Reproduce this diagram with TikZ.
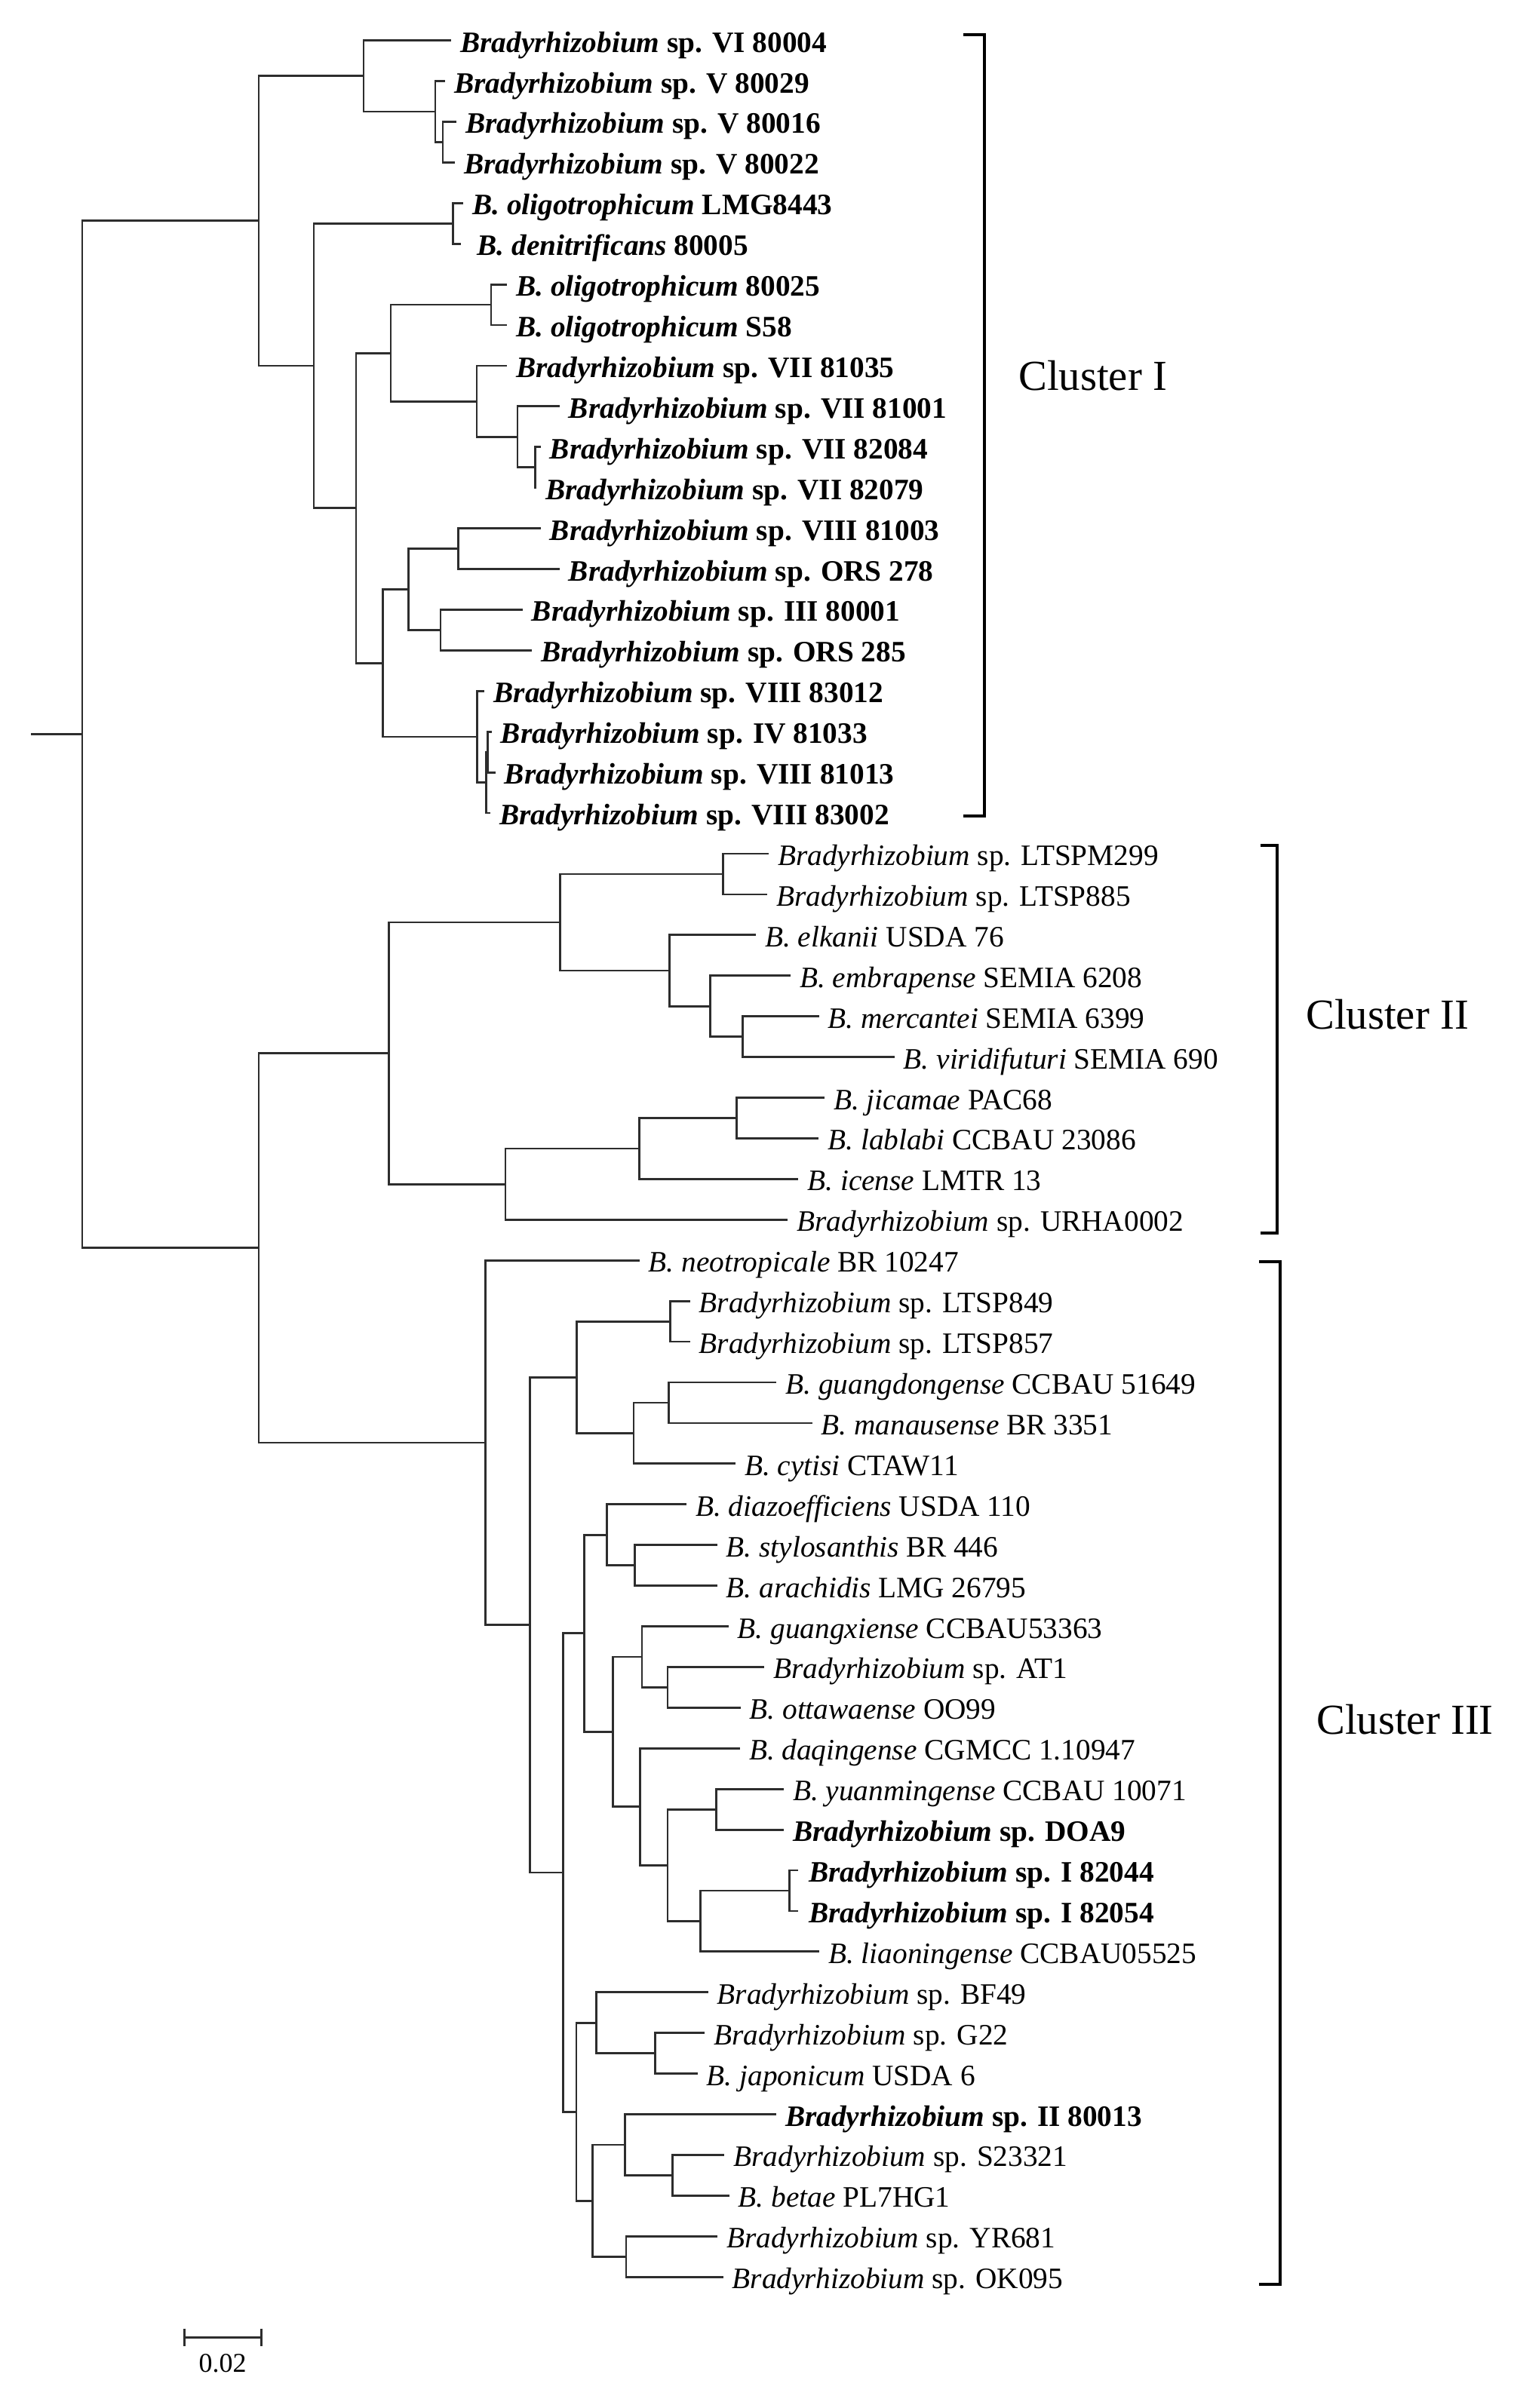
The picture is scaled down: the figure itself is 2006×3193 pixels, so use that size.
\documentclass[tikz,border=0pt]{standalone}
\usepackage{fontspec}
\setmainfont{Liberation Serif}
\definecolor{brc}{RGB}{45,45,45}
\newcommand\leafat[4]{%
  \coordinate (t#1) at (#2,{53.6+(#1-1)*53.92});
  \node[#3] (n#1) at (t#1) {#4};}
\newcommand\brn[2]{\draw[br] (#1) |- (#2);}
\begin{document}
\begin{tikzpicture}[x=1pt,y=-1pt,
  br/.style={line width=2.8pt, draw=brc},
  leaf/.style={anchor=base west, inner sep=0pt, xshift=12pt, yshift=-15.5pt, font=\fontsize{39.3pt}{47pt}\selectfont},
  bleaf/.style={leaf, font=\fontsize{39.3pt}{47pt}\selectfont\bfseries},
  clab/.style={anchor=base west, inner sep=0pt, font=\fontsize{56.7pt}{68pt}\selectfont},
  brk/.style={line width=4pt, draw=black}]
\useasboundingbox (0,0) rectangle (2006,3193);
% ---------- internal nodes ----------
\coordinate (R) at (109,973.80);
\coordinate (root) at (41,973.80);
\coordinate (C1) at (343,292.87);
\coordinate (A) at (482,100.78);
\coordinate (A2) at (577,147.96);
\coordinate (A3) at (587,188.40);
\coordinate (D) at (416,484.96);
\coordinate (D1) at (600.5,296.24);
\coordinate (E) at (472,673.68);
\coordinate (F) at (518,468.11);
\coordinate (F1) at (651,404.08);
\coordinate (F2) at (632,532.14);
\coordinate (F3) at (686,579.32);
\coordinate (F4) at (709.3,619.76);
\coordinate (G) at (507.7,879.25);
\coordinate (G1) at (541.7,781.52);
\coordinate (G11) at (607.7,727.60);
\coordinate (G12) at (584,835.44);
\coordinate (G2) at (632.3,976.98);
\coordinate (G3) at (644.3,1037.64);
\coordinate (G4) at (646.7,997.20);
\coordinate (R2) at (343,1654.72);
\coordinate (H) at (515.6,1396.55);
\coordinate (H1) at (742.2,1222.99);
\coordinate (H11) at (958.3,1158.96);
\coordinate (H12) at (887.4,1287.02);
\coordinate (H13) at (941.4,1334.20);
\coordinate (H14) at (984.2,1374.64);
\coordinate (H2) at (670,1570.10);
\coordinate (H21) at (847.4,1522.92);
\coordinate (H22) at (976.5,1482.48);
\coordinate (K) at (643.7,1912.90);
\coordinate (L) at (702.6,2154.59);
\coordinate (M) at (764.2,1826.22);
\coordinate (M1) at (888.8,1752.08);
\coordinate (M2) at (840,1900.36);
\coordinate (M3) at (886.5,1859.92);
\coordinate (N) at (746.4,2482.95);
\coordinate (P) at (774.5,2165.75);
\coordinate (P1) at (804.3,2035.16);
\coordinate (P11) at (841.2,2075.60);
\coordinate (P2) at (812.4,2296.34);
\coordinate (P21) at (851,2196.92);
\coordinate (P211) at (885,2237.36);
\coordinate (P22) at (848.2,2395.75);
\coordinate (P221) at (885,2473.26);
\coordinate (P222) at (949.2,2399.12);
\coordinate (P223) at (928.2,2547.40);
\coordinate (P224) at (1046.4,2506.96);
\coordinate (Q) at (764,2800.15);
\coordinate (Q1) at (790.3,2682.20);
\coordinate (Q11) at (868.2,2722.64);
\coordinate (Q2) at (785.7,2918.10);
\coordinate (Q21) at (828.2,2843.96);
\coordinate (Q211) at (891.3,2884.40);
\coordinate (Q22) at (830,2992.24);
% ---------- leaves ----------
\leafat{1}{598}{bleaf}{\textit{Bradyrhizobium} sp. VI 80004}
\leafat{2}{590}{bleaf}{\textit{Bradyrhizobium} sp. V 80029}
\leafat{3}{605}{bleaf}{\textit{Bradyrhizobium} sp. V 80016}
\leafat{4}{603}{bleaf}{\textit{Bradyrhizobium} sp. V 80022}
\leafat{5}{614}{bleaf}{\textit{B. oligotrophicum} LMG8443}
\leafat{6}{611}{bleaf,xshift=9.5pt}{\textit{B. denitrificans} 80005}
\leafat{7}{672}{bleaf}{\textit{B. oligotrophicum} 80025}
\leafat{8}{672}{bleaf}{\textit{B. oligotrophicum} S58}
\leafat{9}{672}{bleaf}{\textit{Bradyrhizobium} sp. VII 81035}
\leafat{10}{741.7}{bleaf}{\textit{Bradyrhizobium} sp. VII 81001}
\leafat{11}{716.7}{bleaf}{\textit{Bradyrhizobium} sp. VII 82084}
\leafat{12}{711}{bleaf}{\textit{Bradyrhizobium} sp. VII 82079}
\leafat{13}{716.7}{bleaf}{\textit{Bradyrhizobium} sp. VIII 81003}
\leafat{14}{741.7}{bleaf}{\textit{Bradyrhizobium} sp. ORS 278}
\leafat{15}{692.7}{bleaf}{\textit{Bradyrhizobium} sp. III 80001}
\leafat{16}{705}{bleaf}{\textit{Bradyrhizobium} sp. ORS 285}
\leafat{17}{642.3}{bleaf}{\textit{Bradyrhizobium} sp. VIII 83012}
\leafat{18}{651.7}{bleaf}{\textit{Bradyrhizobium} sp. IV 81033}
\leafat{19}{656.7}{bleaf}{\textit{Bradyrhizobium} sp. VIII 81013}
\leafat{20}{650}{bleaf}{\textit{Bradyrhizobium} sp. VIII 83002}
\leafat{21}{1019}{leaf}{\textit{Bradyrhizobium} sp. LTSPM299}
\leafat{22}{1017}{leaf}{\textit{Bradyrhizobium} sp. LTSP885}
\leafat{23}{1002}{leaf}{\textit{B. elkanii} USDA 76}
\leafat{24}{1048}{leaf}{\textit{B. embrapense} SEMIA 6208}
\leafat{25}{1085.5}{leaf}{\textit{B. mercantei} SEMIA 6399}
\leafat{26}{1185.7}{leaf}{\textit{B. viridifuturi} SEMIA 690}
\leafat{27}{1092.9}{leaf}{\textit{B. jicamae} PAC68}
\leafat{28}{1085.2}{leaf}{\textit{B. lablabi} CCBAU 23086}
\leafat{29}{1058.2}{leaf}{\textit{B. icense} LMTR 13}
\leafat{30}{1044.4}{leaf}{\textit{Bradyrhizobium} sp. URHA0002}
\leafat{31}{847.5}{leaf}{\textit{B. neotropicale} BR 10247}
\leafat{32}{914.6}{leaf}{\textit{Bradyrhizobium} sp. LTSP849}
\leafat{33}{914.6}{leaf}{\textit{Bradyrhizobium} sp. LTSP857}
\leafat{34}{1029.4}{leaf}{\textit{B. guangdongense} CCBAU 51649}
\leafat{35}{1076.5}{leaf}{\textit{B. manausense} BR 3351}
\leafat{36}{974.9}{leaf}{\textit{B. cytisi} CTAW11}
\leafat{37}{910}{leaf}{\textit{B. diazoefficiens} USDA 110}
\leafat{38}{950.6}{leaf}{\textit{B. stylosanthis} BR 446}
\leafat{39}{950.6}{leaf}{\textit{B. arachidis} LMG 26795}
\leafat{40}{965.7}{leaf}{\textit{B. guangxiense} CCBAU53363}
\leafat{41}{1013}{leaf}{\textit{Bradyrhizobium} sp. AT1}
\leafat{42}{981.5}{leaf}{\textit{B. ottawaense} OO99}
\leafat{43}{980.8}{leaf}{\textit{B. daqingense} CGMCC 1.10947}
\leafat{44}{1039}{leaf}{\textit{B. yuanmingense} CCBAU 10071}
\leafat{45}{1039}{bleaf}{\textit{Bradyrhizobium} sp. DOA9}
\leafat{46}{1058}{bleaf,xshift=2pt}{\textit{Bradyrhizobium} sp. I 82044}
\leafat{47}{1058}{bleaf,xshift=2pt}{\textit{Bradyrhizobium} sp. I 82054}
\leafat{48}{1086}{leaf}{\textit{B. liaoningense} CCBAU05525}
\leafat{49}{938.5}{leaf}{\textit{Bradyrhizobium} sp. BF49}
\leafat{50}{934}{leaf}{\textit{Bradyrhizobium} sp. G22}
\leafat{51}{924.7}{leaf}{\textit{B. japonicum} USDA 6}
\leafat{52}{1028.8}{bleaf}{\textit{Bradyrhizobium} sp. II 80013}
\leafat{53}{960.4}{leaf}{\textit{Bradyrhizobium} sp. S23321}
\leafat{54}{966.7}{leaf}{\textit{B. betae} PL7HG1}
\leafat{55}{951}{leaf}{\textit{Bradyrhizobium} sp. YR681}
\leafat{56}{958.7}{leaf}{\textit{Bradyrhizobium} sp. OK095}
% ---------- branches ----------
\draw[br] (root) -- (R);
\brn{R}{C1}\brn{R}{R2}
\brn{C1}{A}\brn{C1}{D}
\brn{A}{t1}\brn{A}{A2}
\brn{A2}{t2}\brn{A2}{A3}
\brn{A3}{t3}\brn{A3}{t4}
\brn{D}{D1}\brn{D}{E}
\brn{D1}{t5}\brn{D1}{t6}
\brn{E}{F}\brn{E}{G}
\brn{F}{F1}\brn{F}{F2}
\brn{F1}{t7}\brn{F1}{t8}
\brn{F2}{t9}\brn{F2}{F3}
\brn{F3}{t10}\brn{F3}{F4}
\brn{F4}{t11}\brn{F4}{t12}
\brn{G}{G1}\brn{G}{G2}
\brn{G1}{G11}\brn{G1}{G12}
\brn{G11}{t13}\brn{G11}{t14}
\brn{G12}{t15}\brn{G12}{t16}
\brn{G2}{t17}\brn{G2}{G3}
\brn{G3}{G4}\brn{G3}{t20}
\brn{G4}{t18}\brn{G4}{t19}
\brn{R2}{H}\brn{R2}{K}
\brn{H}{H1}\brn{H}{H2}
\brn{H1}{H11}\brn{H1}{H12}
\brn{H11}{t21}\brn{H11}{t22}
\brn{H12}{t23}\brn{H12}{H13}
\brn{H13}{t24}\brn{H13}{H14}
\brn{H14}{t25}\brn{H14}{t26}
\brn{H2}{H21}\brn{H2}{t30}
\brn{H21}{H22}\brn{H21}{t29}
\brn{H22}{t27}\brn{H22}{t28}
\brn{K}{t31}\brn{K}{L}
\brn{L}{M}\brn{L}{N}
\brn{M}{M1}\brn{M}{M2}
\brn{M1}{t32}\brn{M1}{t33}
\brn{M2}{M3}\brn{M2}{t36}
\brn{M3}{t34}\brn{M3}{t35}
\brn{N}{P}\brn{N}{Q}
\brn{P}{P1}\brn{P}{P2}
\brn{P1}{t37}\brn{P1}{P11}
\brn{P11}{t38}\brn{P11}{t39}
\brn{P2}{P21}\brn{P2}{P22}
\brn{P21}{t40}\brn{P21}{P211}
\brn{P211}{t41}\brn{P211}{t42}
\brn{P22}{t43}\brn{P22}{P221}
\brn{P221}{P222}\brn{P221}{P223}
\brn{P222}{t44}\brn{P222}{t45}
\brn{P223}{P224}\brn{P223}{t48}
\brn{P224}{t46}\brn{P224}{t47}
\brn{Q}{Q1}\brn{Q}{Q2}
\brn{Q1}{t49}\brn{Q1}{Q11}
\brn{Q11}{t50}\brn{Q11}{t51}
\brn{Q2}{Q21}\brn{Q2}{Q22}
\brn{Q21}{t52}\brn{Q21}{Q211}
\brn{Q211}{t53}\brn{Q211}{t54}
\brn{Q22}{t55}\brn{Q22}{t56}
% ---------- cluster brackets ----------
\draw[brk] (1277,45.6) -| (1305.4,1082.4) -- (1277,1082.4);
\draw[brk] (1671,1120.5) -| (1692.5,1635) -- (1671,1635);
\draw[brk] (1669,1673) -| (1696.7,3029) -- (1669,3029);
\node[clab] (c1) at (1350,517) {Cluster I};
\node[clab] (c2) at (1731,1364) {Cluster II};
\node[clab] (c3) at (1745,2299) {Cluster III};
% ---------- scale bar ----------
\coordinate (sbl) at (244.3,3099.3);
\coordinate (sbr) at (346,3099.3);
\draw[line width=3pt, draw=brc] (sbl) -- (sbr);
\draw[line width=3pt, draw=brc] (244.3,3087.7) -- (244.3,3111);
\draw[line width=3pt, draw=brc] (346,3087.7) -- (346,3111);
\node[anchor=base, inner sep=0pt, font=\fontsize{36pt}{43pt}\selectfont] (sbt) at (295.2,3145) {0.02};
\end{tikzpicture}
\end{document}
